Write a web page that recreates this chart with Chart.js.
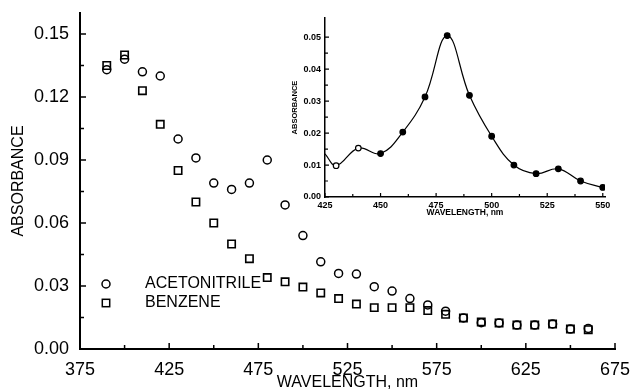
<!DOCTYPE html>
<html>
<head>
<meta charset="utf-8">
<title>Absorbance spectra</title>
<script src="https://cdn.jsdelivr.net/npm/chart.js@4.4.0/dist/chart.umd.min.js"></script>
<style>
  html, body { margin: 0; padding: 0; background: #fff; }
  #wrap { position: relative; width: 632px; height: 391px; overflow: hidden; }
  #main { position: absolute; left: 0; top: 0; }
  #inset { position: absolute; left: 270px; top: 5px; }
</style>
</head>
<body>
<div id="wrap">
  <canvas id="main" width="632" height="391"></canvas>
  <canvas id="inset" width="345" height="215"></canvas>
</div>
<script>
// main plot: absorbance in two solvents
const wavelengths = [390, 400, 410, 420, 430, 440, 450, 460, 470, 480, 490, 500, 510, 520,
                     530, 540, 550, 560, 570, 580, 590, 600, 610, 620, 630, 640, 650, 660];
const acetonitrile = [0.133, 0.138, 0.132, 0.130, 0.100, 0.091, 0.079, 0.076, 0.079, 0.090,
                      0.0686, 0.054, 0.0415, 0.036, 0.0357, 0.0297, 0.0276, 0.024, 0.021, 0.018,
                      0.0148, 0.0125, 0.0124, 0.0114, 0.0114, 0.0119, 0.0095, 0.0098];
const benzene = [0.135, 0.140, 0.123, 0.107, 0.085, 0.070, 0.060, 0.050, 0.043, 0.034,
                 0.032, 0.0295, 0.0267, 0.024, 0.0214, 0.0197, 0.0197, 0.0197, 0.0183, 0.0165,
                 0.0148, 0.0129, 0.0124, 0.0114, 0.0114, 0.0119, 0.0095, 0.0092];
const xMajor = [375, 425, 475, 525, 575, 625, 675];
const xMinor = [400, 450, 500, 550, 600, 650];
const yMajor = [0, 0.03, 0.06, 0.09, 0.12, 0.15];
const yMinor = [0.015, 0.045, 0.075, 0.105, 0.135];

// inset: difference spectrum
const insetWavelengths = [425, 430, 440, 450, 460, 470, 480, 490, 500, 510, 520, 530, 540, 550];
const insetAbsorbance = [0.0135, 0.0098, 0.0153, 0.0136, 0.0203, 0.0313, 0.0505, 0.0318,
                         0.0190, 0.0100, 0.0073, 0.0088, 0.0050, 0.0030];
const insetXMajor = [425, 450, 475, 500, 525, 550];
const insetXMinor = [437.5, 462.5, 487.5, 512.5, 537.5];
const insetYMajor = [0, 0.01, 0.02, 0.03, 0.04, 0.05];
const insetYMinor = [0.005, 0.015, 0.025, 0.035, 0.045];

const FONT = "'Liberation Sans', Arial, sans-serif";

// tick marks pointing into the plot area
const inTicks = {
  id: 'inTicks',
  afterDraw(chart, args, o) {
    const {ctx, scales: {x, y}} = chart;
    ctx.save();
    ctx.strokeStyle = '#000';
    ctx.lineWidth = o.width;
    ctx.beginPath();
    const xt = (list, len) => list.forEach(v => {
      const px = x.getPixelForValue(v);
      ctx.moveTo(px, x.top); ctx.lineTo(px, x.top - len);
    });
    const yt = (list, len) => list.forEach(v => {
      const py = y.getPixelForValue(v);
      ctx.moveTo(y.right, py); ctx.lineTo(y.right + len, py);
    });
    xt(o.xMajor, o.major); xt(o.xMinor, o.minor);
    yt(o.yMajor, o.major); yt(o.yMinor, o.minor);
    ctx.stroke();
    ctx.restore();
  }
};

// legend written inside the plot, lower left
const solventKey = {
  id: 'solventKey',
  afterDraw(chart) {
    const {ctx, chartArea} = chart;
    const mx = chartArea.left + 26, tx = chartArea.left + 65;
    const y1 = 284, y2 = 303;
    ctx.save();
    ctx.strokeStyle = '#000';
    ctx.lineWidth = 1.5;
    ctx.beginPath();
    ctx.arc(mx, y1, 4, 0, Math.PI * 2);
    ctx.stroke();
    ctx.strokeRect(mx - 3.7, y2 - 3.7, 7.4, 7.4);
    ctx.fillStyle = '#000';
    ctx.font = '16px ' + FONT;
    ctx.textBaseline = 'middle';
    ctx.fillText('ACETONITRILE', tx, y1);
    ctx.fillText('BENZENE', tx, y2);
    ctx.restore();
  }
};

new Chart(document.getElementById('main'), {
  type: 'scatter',
  data: {
    datasets: [{
      label: 'ACETONITRILE',
      data: wavelengths.map((w, i) => ({x: w, y: acetonitrile[i]})),
      pointStyle: 'circle',
      pointRadius: 4,
      borderColor: '#000',
      backgroundColor: 'rgba(0,0,0,0)',
      borderWidth: 1.5
    }, {
      label: 'BENZENE',
      data: wavelengths.map((w, i) => ({x: w, y: benzene[i]})),
      pointStyle: 'rect',
      pointRadius: 5.2,
      borderColor: '#000',
      backgroundColor: 'rgba(0,0,0,0)',
      borderWidth: 1.6
    }]
  },
  options: {
    responsive: false,
    animation: false,
    devicePixelRatio: 1,
    layout: { padding: { top: 13, right: 17, left: 0, bottom: 0 } },
    plugins: {
      legend: { display: false },
      tooltip: { enabled: false },
      inTicks: { xMajor, xMinor, yMajor, yMinor, major: 6, minor: 4, width: 1.5 }
    },
    scales: {
      x: {
        type: 'linear', min: 375, max: 675,
        afterBuildTicks: s => { s.ticks = xMajor.map(v => ({value: v})); },
        afterFit: s => { s.height = 42; s.paddingLeft = 0; s.paddingRight = 0; },
        grid: { display: false, drawTicks: false },
        border: { display: true, color: '#000', width: 2 },
        ticks: { color: '#000', font: { family: FONT, size: 18 }, padding: 10,
                 maxRotation: 0, autoSkip: false, callback: v => String(v) },
        title: { display: true, text: 'WAVELENGTH, nm', color: '#000',
                 font: { family: FONT, size: 16, lineHeight: 1 }, padding: { top: 0, bottom: 0 } }
      },
      y: {
        type: 'linear', min: 0, max: 0.16,
        afterBuildTicks: s => { s.ticks = yMajor.map(v => ({value: v})); },
        afterFit: s => { s.width = 80; s.paddingTop = 0; s.paddingBottom = 0; },
        grid: { display: false, drawTicks: false },
        border: { display: true, color: '#000', width: 2 },
        ticks: { color: '#000', font: { family: FONT, size: 18 }, padding: 11,
                 autoSkip: false, callback: v => v.toFixed(2) },
        title: { display: true, text: 'ABSORBANCE', color: '#000',
                 font: { family: FONT, size: 16, lineHeight: 1 }, padding: { top: 11, bottom: 0 } }
      }
    }
  },
  plugins: [inTicks, solventKey]
});

new Chart(document.getElementById('inset'), {
  type: 'line',
  data: {
    datasets: [{
      data: insetWavelengths.map((w, i) => ({x: w, y: insetAbsorbance[i]})),
      borderColor: '#000',
      borderWidth: 1.2,
      tension: 0.4,
      pointRadius: [0, 2.8, 2.8, 2.8, 2.8, 2.8, 2.8, 2.8, 2.8, 2.8, 2.8, 2.8, 2.8, 2.8],
      pointBackgroundColor: ['#000', '#fff', '#fff', '#000', '#000', '#000', '#000',
                             '#000', '#000', '#000', '#000', '#000', '#000', '#000'],
      pointBorderColor: '#000',
      pointBorderWidth: 1.2,
      fill: false
    }]
  },
  options: {
    responsive: false,
    animation: false,
    devicePixelRatio: 1,
    layout: { padding: { top: 13, right: 10, left: 0, bottom: 0 } },
    plugins: {
      legend: { display: false },
      tooltip: { enabled: false },
      inTicks: { xMajor: insetXMajor, xMinor: insetXMinor, yMajor: insetYMajor, yMinor: insetYMinor,
                 major: 4, minor: 3, width: 1.2 }
    },
    scales: {
      x: {
        type: 'linear', min: 425, max: 551,
        afterBuildTicks: s => { s.ticks = insetXMajor.map(v => ({value: v})); },
        afterFit: s => { s.height = 23; s.paddingLeft = 0; s.paddingRight = 0; },
        grid: { display: false, drawTicks: false },
        border: { display: true, color: '#000', width: 1.5 },
        ticks: { color: '#000', font: { family: FONT, size: 9, weight: 'bold' }, padding: 3,
                 maxRotation: 0, autoSkip: false, callback: v => String(v) },
        title: { display: true, text: 'WAVELENGTH, nm', color: '#000',
                 font: { family: FONT, size: 8.5, weight: 'bold', lineHeight: 1 },
                 padding: { top: 0, bottom: 3 } }
      },
      y: {
        type: 'linear', min: 0, max: 0.056,
        afterBuildTicks: s => { s.ticks = insetYMajor.map(v => ({value: v})); },
        afterFit: s => { s.width = 55; s.paddingTop = 0; s.paddingBottom = 0; },
        grid: { display: false, drawTicks: false },
        border: { display: true, color: '#000', width: 1.5 },
        ticks: { color: '#000', font: { family: FONT, size: 9, weight: 'bold' }, padding: 4,
                 autoSkip: false, callback: v => v.toFixed(2) },
        title: { display: true, text: 'ABSORBANCE', color: '#000',
                 font: { family: FONT, size: 7.5, weight: 'bold', lineHeight: 1 },
                 padding: { top: 21, bottom: 0 } }
      }
    }
  },
  plugins: [inTicks]
});
</script>
</body>
</html>
